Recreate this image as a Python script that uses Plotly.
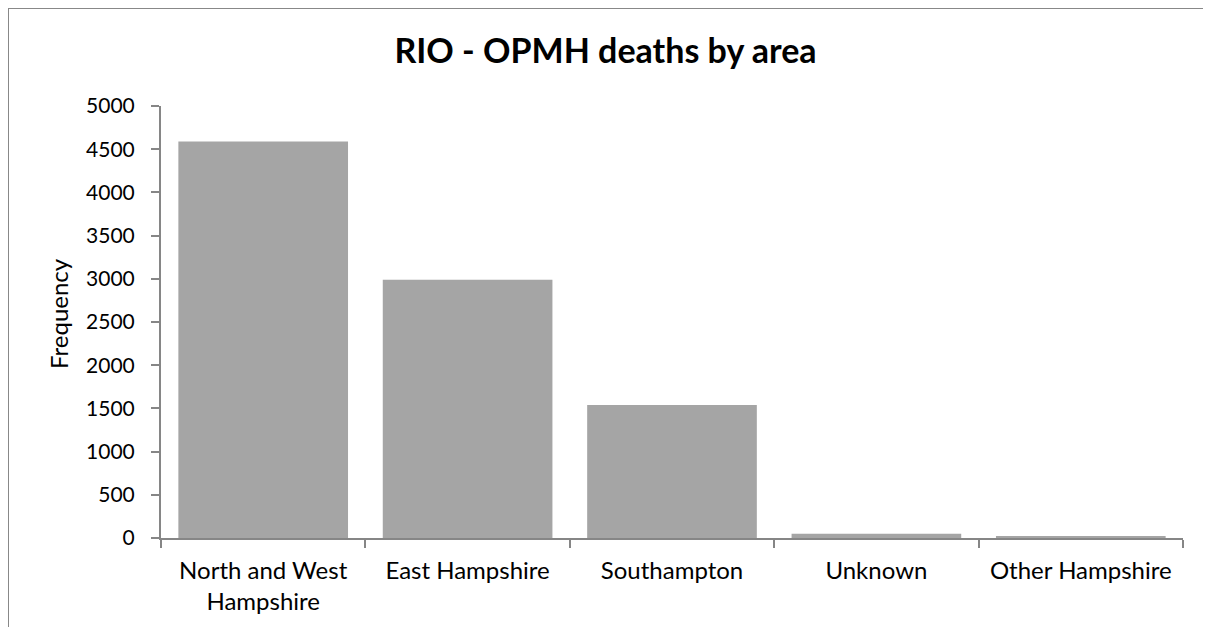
import plotly.graph_objects as go

categories = ["North and West<br>Hampshire", "East Hampshire", "Southampton", "Unknown", "Other Hampshire"]
values = [4590, 2990, 1540, 50, 15]
y_ticks = [0, 500, 1000, 1500, 2000, 2500, 3000, 3500, 4000, 4500, 5000]

# page body has an 8px margin, so figure coords = screen coords - 8
OFF = 8
W, H = 1211 - 2 * OFF, 635 - 2 * OFF
L, T = 161 - OFF, 106 - OFF
pw, ph = 1022, 432
R = W - L - pw
B = H - T - ph

def px_x(p):
    return (p - OFF - L) / pw

def px_y(p):
    return (H - B - (p - OFF)) / ph

FONT = "Lato, Open Sans, sans-serif"

fig = go.Figure()
fig.add_trace(go.Bar(
    x=categories, y=values,
    marker=dict(color="#a5a5a5", line=dict(width=0)),
))

fig.update_layout(
    width=W, height=H,
    margin=dict(l=L, r=R, t=T, b=B),
    paper_bgcolor="white", plot_bgcolor="white",
    bargap=0.17,
    showlegend=False,
    font=dict(family=FONT, size=21, color="#000000"),
    title=dict(text="<b>RIO - OPMH deaths by area</b>", x=0.5, xanchor="center",
               y=1 - (51 - OFF) / H, yanchor="middle",
               font=dict(size=34, family=FONT)),
    xaxis=dict(
        showline=True, linecolor="#868686", linewidth=2,
        ticks="outside", ticklen=8, tickcolor="#868686", tickwidth=2,
        tickson="boundaries", showgrid=False,
        tickfont=dict(size=24),
        ticklabelstandoff=10,
    ),
    yaxis=dict(
        range=[0, 5000], tickvals=y_ticks,
        showline=True, linecolor="#868686", linewidth=2,
        ticks="outside", ticklen=8, tickcolor="#868686", tickwidth=2,
        showgrid=False, zeroline=False,
        tickfont=dict(size=21),
        ticklabelstandoff=12,
    ),
    annotations=[
        dict(text="Frequency", xref="paper", yref="paper",
             x=px_x(58), y=px_y(314), xanchor="center", yanchor="middle",
             textangle=-90, showarrow=False, font=dict(size=24, family=FONT)),
    ],
    shapes=[
        dict(type="line", xref="paper", yref="paper",
             x0=px_x(8), x1=px_x(1211), y0=px_y(8), y1=px_y(8),
             line=dict(color="#888888", width=2)),
        dict(type="line", xref="paper", yref="paper",
             x0=px_x(8), x1=px_x(8), y0=px_y(8), y1=px_y(640),
             line=dict(color="#888888", width=2)),
    ],
)

fig.write_html("out.html")
